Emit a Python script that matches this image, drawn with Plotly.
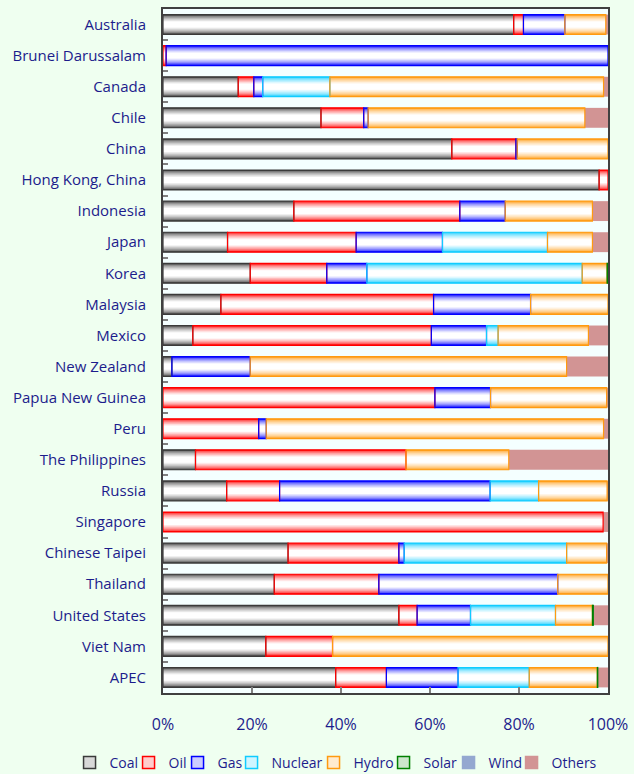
import plotly.graph_objects as go

categories = ["Australia", "Brunei Darussalam", "Canada", "Chile", "China",
              "Hong Kong, China", "Indonesia", "Japan", "Korea", "Malaysia",
              "Mexico", "New Zealand", "Papua New Guinea", "Peru",
              "The Philippines", "Russia", "Singapore", "Chinese Taipei",
              "Thailand", "United States", "Viet Nam", "APEC"]

coal    = [78.8, 0.0, 16.9, 35.5, 64.9, 98.0, 29.4, 14.5, 19.6, 13.0, 6.7, 2.0, 0.0, 0.0, 7.3, 14.3, 0.0, 28.1, 25.0, 53.0, 23.1, 38.8]
oil     = [2.2, 0.7, 3.5, 9.6, 14.4, 2.0, 37.3, 28.9, 17.2, 47.8, 53.6, 0.0, 61.1, 21.5, 47.3, 11.9, 98.9, 24.9, 23.5, 4.1, 15.0, 11.4]
gas     = [9.3, 99.3, 2.0, 1.0, 0.3, 0.0, 10.2, 19.4, 9.0, 21.8, 12.4, 17.6, 12.5, 1.7, 0.0, 47.3, 0.0, 1.2, 40.2, 12.0, 0.0, 16.1]
nuclear = [0.0, 0.0, 15.1, 0.0, 0.0, 0.0, 0.0, 23.6, 48.4, 0.0, 2.6, 0.0, 0.0, 0.0, 0.0, 10.9, 0.0, 36.5, 0.0, 19.1, 0.0, 16.0]
hydro   = [9.2, 0.0, 61.5, 48.7, 20.4, 0.0, 19.6, 10.1, 5.6, 17.4, 20.3, 71.1, 26.1, 75.8, 23.1, 15.4, 0.0, 9.0, 11.3, 8.3, 61.9, 15.3]
solar   = [0.0, 0.0, 0.0, 0.0, 0.0, 0.0, 0.0, 0.0, 0.2, 0.0, 0.0, 0.0, 0.0, 0.0, 0.0, 0.0, 0.0, 0.0, 0.0, 0.2, 0.0, 0.1]
wind    = [0.0] * 22
others  = [0.5, 0.0, 1.0, 5.2, 0.0, 0.0, 3.5, 3.5, 0.0, 0.0, 4.4, 9.3, 0.3, 1.0, 22.3, 0.2, 1.1, 0.3, 0.0, 3.3, 0.0, 2.3]

series_names = ["Coal", "Oil", "Gas", "Nuclear", "Hydro", "Solar", "Wind", "Others"]
series_values = [coal, oil, gas, nuclear, hydro, solar, wind, others]
series_colors = ["#3a3a3a", "#ff0000", "#0000ff", "#10ccff", "#ff9a10", "#008000", "#94a8d0", "#d29494"]
gradient = [True, True, True, True, True, True, False, False]
legend_widths = [14, 4, 9, 37, 25, 20, 18, 46]

TEXT = "#1c1c8c"
FONT = "Open Sans"
PAGE_BG = "#effff0"
BAR_W = 0.64
N_LAYERS = 9


def hex_to_rgb(h):
    h = h.lstrip("#")
    return tuple(int(h[i:i + 2], 16) for i in (0, 2, 4))


def mix_white(h, t):
    r, g, b = hex_to_rgb(h)
    return "rgb(%d,%d,%d)" % (round(r + (255 - r) * t), round(g + (255 - g) * t), round(b + (255 - b) * t))


def nz(vals):
    return [v if v > 0 else None for v in vals]


fig = go.Figure()

# cumulative bases
bases = []
running = [0.0] * len(categories)
for vals in series_values:
    bases.append(list(running))
    running = [a + b for a, b in zip(running, vals)]

for name, vals, base, color, grad in zip(series_names, series_values, bases, series_colors, gradient):
    if grad:
        for k in range(N_LAYERS):
            t = k / (N_LAYERS - 1)
            w = BAR_W * (1 - 0.7 * t)
            col = mix_white(color, min(1.0, t ** 0.6))
            fig.add_trace(go.Bar(
                y=categories, x=nz(vals), base=base, orientation="h", width=w,
                marker=dict(color=col, line=dict(width=0)),
                showlegend=False, hoverinfo="skip"))
    else:
        fig.add_trace(go.Bar(
            y=categories, x=nz(vals), base=base, orientation="h", width=BAR_W,
            marker=dict(color=color, line=dict(width=0)),
            showlegend=False, hoverinfo="skip"))

# outlines on top
for name, vals, base, color, grad in zip(series_names, series_values, bases, series_colors, gradient):
    if grad:
        fig.add_trace(go.Bar(
            y=categories, x=nz(vals), base=base, orientation="h", width=BAR_W,
            marker=dict(color="rgba(0,0,0,0)", line=dict(width=1.2, color=color)),
            showlegend=False, name=name, hoverinfo="skip"))

# legend entries
for name, color, grad, lw in zip(series_names, series_colors, gradient, legend_widths):
    fig.add_trace(go.Bar(
        y=[None], x=[None], orientation="h", name=name,
        marker=dict(color=mix_white(color, 0.8) if grad else color,
                    line=dict(width=1.5, color=color)),
        legendwidth=lw, showlegend=True))

fig.update_layout(
    width=634, height=774,
    barmode="overlay",
    paper_bgcolor=PAGE_BG,
    plot_bgcolor="#f4ffff",
    margin=dict(l=163, r=26, t=9, b=81, autoexpand=False),
    font=dict(family=FONT, color=TEXT, size=14),
    showlegend=True,
    legend=dict(orientation="h", x=-0.21, xanchor="left", y=-0.1255, yanchor="bottom",
                font=dict(size=14, color=TEXT), bgcolor="rgba(0,0,0,0)",
                itemwidth=30, traceorder="normal"),
)
fig.update_xaxes(range=[0, 100], tickvals=[0, 20, 40, 60, 80, 100],
                 ticktext=["0%", "20%", "40%", "60%", "80%", "100%"],
                 ticks="inside", ticklen=6, tickcolor="#808080", tickwidth=2,
                 showgrid=False, zeroline=False, showline=True, linecolor="#404040",
                 linewidth=2, mirror=True, tickfont=dict(size=16, color=TEXT),
                 ticklabelstandoff=16, automargin=False)
fig.update_yaxes(autorange="reversed", type="category", tickson="boundaries",
                 ticks="inside", ticklen=5, tickcolor="#808080", tickwidth=2,
                 showgrid=False, showline=True, linecolor="#404040", linewidth=2,
                 mirror=True, tickfont=dict(size=15, color=TEXT), ticklabelstandoff=12,
                 automargin=False)

fig.write_html(
    "out.html",
    config={"displayModeBar": False},
    post_script="document.body.style.margin='0px';document.body.style.backgroundColor='%s';" % PAGE_BG,
)
